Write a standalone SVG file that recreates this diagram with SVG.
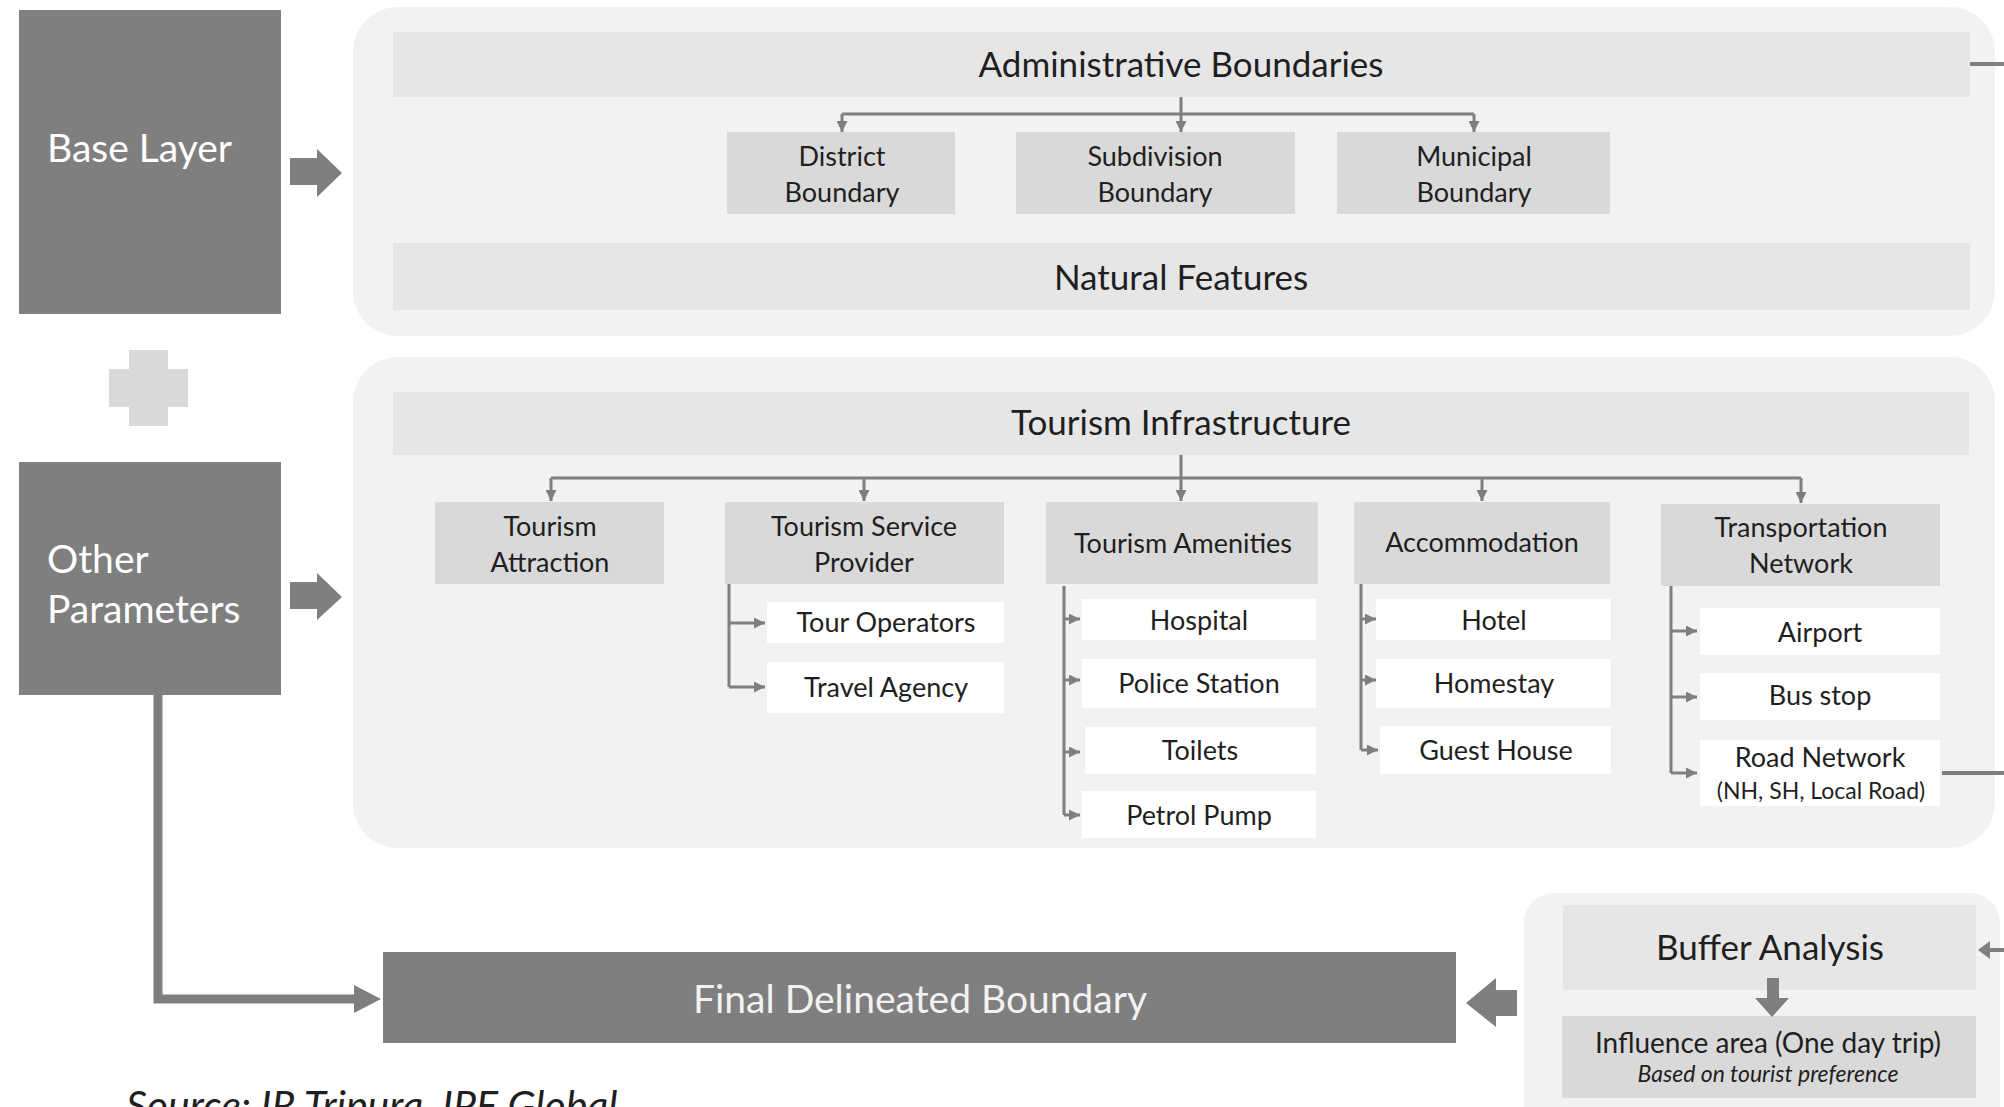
<svg xmlns="http://www.w3.org/2000/svg" width="2004" height="1107" viewBox="0 0 2004 1107">
<defs>
<style>
.dark{fill:#7f7f7f}
.panel{fill:#f2f2f2}
.bar{fill:#e6e6e6}
.sub{fill:#d9d9d9}
.wb{fill:#ffffff}
.t{font-family:Lato,"Open Sans","Liberation Sans",sans-serif;fill:#1f1f1f;text-anchor:middle}
.big{font-size:35px}
.mid{font-size:27px}
.wt{font-family:Lato,"Open Sans","Liberation Sans",sans-serif;fill:#ffffff;font-size:39px}
.ln{stroke:#7f7f7f;stroke-width:3;fill:none}
.thick{stroke:#7f7f7f;fill:none}
.blk{fill:#7f7f7f}
</style>
<marker id="ah" viewBox="0 0 10 10" refX="10" refY="5" markerWidth="11" markerHeight="11" markerUnits="userSpaceOnUse" orient="auto">
<path d="M0,0 L10,5 L0,10 z" fill="#7f7f7f"/>
</marker>
</defs>
<rect width="2004" height="1107" fill="#ffffff"/>

<g id="panel-base">
<rect class="panel" x="353" y="7" width="1642" height="329" rx="45"/>
</g>
<g id="panel-other">
<rect class="panel" x="353" y="357" width="1642" height="491" rx="45"/>
</g>
<g id="panel-buffer">
<rect class="panel" x="1524" y="893" width="476" height="240" rx="30"/>
</g>

<g id="base-layer">
<rect class="dark" x="19" y="10" width="262" height="304"/>
<text class="wt" x="47" y="162">Base Layer</text>
</g>
<g id="plus">
<rect x="129" y="350" width="39" height="76" fill="#d9d9d9"/>
<rect x="109" y="369" width="79" height="38" fill="#d9d9d9"/>
</g>
<g id="other-parameters">
<rect class="dark" x="19" y="462" width="262" height="233"/>
<text class="wt" x="47" y="573">Other</text>
<text class="wt" x="47" y="623">Parameters</text>
</g>

<g id="admin-boundaries">
<rect class="bar" x="393" y="32" width="1577" height="65"/>
<text class="t big" x="1181" y="77">Administrative Boundaries</text>
</g>
<g id="district-boundary">
<rect class="sub" x="727" y="132" width="228" height="82"/>
<text class="t mid" x="842" y="166">District</text>
<text class="t mid" x="842" y="202">Boundary</text>
</g>
<g id="subdivision-boundary">
<rect class="sub" x="1016" y="132" width="279" height="82"/>
<text class="t mid" x="1155" y="166">Subdivision</text>
<text class="t mid" x="1155" y="202">Boundary</text>
</g>
<g id="municipal-boundary">
<rect class="sub" x="1337" y="132" width="273" height="82"/>
<text class="t mid" x="1474" y="166">Municipal</text>
<text class="t mid" x="1474" y="202">Boundary</text>
</g>
<g id="natural-features">
<rect class="bar" x="393" y="243" width="1577" height="67"/>
<text class="t big" x="1181" y="290">Natural Features</text>
</g>

<g id="tourism-infrastructure">
<rect class="bar" x="393" y="392" width="1576" height="63"/>
<text class="t big" x="1181" y="435">Tourism Infrastructure</text>
</g>
<g id="tourism-attraction">
<rect class="sub" x="435" y="502" width="229" height="82"/>
<text class="t mid" x="550" y="536">Tourism</text>
<text class="t mid" x="550" y="572">Attraction</text>
</g>
<g id="tourism-service-provider">
<rect class="sub" x="725" y="502" width="279" height="82"/>
<text class="t mid" x="864" y="536">Tourism Service</text>
<text class="t mid" x="864" y="572">Provider</text>
</g>
<g id="tourism-amenities">
<rect class="sub" x="1046" y="502" width="272" height="82"/>
<text class="t mid" x="1183" y="553">Tourism Amenities</text>
</g>
<g id="accommodation">
<rect class="sub" x="1354" y="502" width="256" height="82"/>
<text class="t mid" x="1482" y="552">Accommodation</text>
</g>
<g id="transportation-network">
<rect class="sub" x="1661" y="504" width="279" height="82"/>
<text class="t mid" x="1801" y="537">Transportation</text>
<text class="t mid" x="1801" y="573">Network</text>
</g>

<g id="tour-operators">
<rect class="wb" x="767" y="602" width="237" height="41"/>
<text class="t mid" x="886" y="632">Tour Operators</text>
</g>
<g id="travel-agency">
<rect class="wb" x="767" y="662" width="237" height="51"/>
<text class="t mid" x="886" y="697">Travel Agency</text>
</g>
<g id="hospital">
<rect class="wb" x="1082" y="599" width="234" height="41"/>
<text class="t mid" x="1199" y="630">Hospital</text>
</g>
<g id="police-station">
<rect class="wb" x="1082" y="659" width="234" height="49"/>
<text class="t mid" x="1199" y="693">Police Station</text>
</g>
<g id="toilets">
<rect class="wb" x="1085" y="727" width="231" height="47"/>
<text class="t mid" x="1200" y="760">Toilets</text>
</g>
<g id="petrol-pump">
<rect class="wb" x="1082" y="791" width="234" height="47"/>
<text class="t mid" x="1199" y="825">Petrol Pump</text>
</g>
<g id="hotel">
<rect class="wb" x="1376" y="599" width="235" height="41"/>
<text class="t mid" x="1494" y="630">Hotel</text>
</g>
<g id="homestay">
<rect class="wb" x="1376" y="659" width="235" height="49"/>
<text class="t mid" x="1494" y="693">Homestay</text>
</g>
<g id="guest-house">
<rect class="wb" x="1380" y="726" width="231" height="48"/>
<text class="t mid" x="1496" y="760">Guest House</text>
</g>
<g id="airport">
<rect class="wb" x="1700" y="608" width="240" height="47"/>
<text class="t mid" x="1820" y="642">Airport</text>
</g>
<g id="bus-stop">
<rect class="wb" x="1700" y="673" width="240" height="47"/>
<text class="t mid" x="1820" y="705">Bus stop</text>
</g>
<g id="road-network">
<rect class="wb" x="1700" y="740" width="240" height="66"/>
<text class="t mid" x="1820" y="767">Road Network</text>
<text class="t" x="1821" y="799" font-size="23">(NH, SH, Local Road)</text>
</g>

<g id="final-delineated-boundary">
<rect class="dark" x="383" y="952" width="1073" height="91"/>
<text x="920" y="1013" font-family="Lato,'Open Sans','Liberation Sans',sans-serif" font-size="39" fill="#f2f2f2" text-anchor="middle">Final Delineated Boundary</text>
</g>
<g id="buffer-analysis">
<rect class="bar" x="1563" y="905" width="413" height="85"/>
<text class="t big" x="1770" y="960">Buffer Analysis</text>
</g>
<g id="influence-area">
<rect class="sub" x="1562" y="1016" width="414" height="82"/>
<text class="t" x="1768" y="1053" font-size="28">Influence area (One day trip)</text>
<text class="t" x="1768" y="1082" font-size="23" font-style="italic">Based on tourist preference</text>
</g>

<g id="connectors">
<path class="ln" d="M1181,97 V132" marker-end="url(#ah)"/>
<path class="ln" d="M842,114 H1474"/>
<path class="ln" d="M842,114 V132" marker-end="url(#ah)"/>
<path class="ln" d="M1474,114 V132" marker-end="url(#ah)"/>

<path class="ln" d="M1181,455 V501" marker-end="url(#ah)"/>
<path class="ln" d="M551,478 H1801"/>
<path class="ln" d="M551,478 V501" marker-end="url(#ah)"/>
<path class="ln" d="M864,478 V501" marker-end="url(#ah)"/>
<path class="ln" d="M1482,478 V501" marker-end="url(#ah)"/>
<path class="ln" d="M1801,478 V503" marker-end="url(#ah)"/>

<path class="ln" d="M729,584 V687"/>
<path class="ln" d="M729,623 H765" marker-end="url(#ah)"/>
<path class="ln" d="M729,687 H765" marker-end="url(#ah)"/>

<path class="ln" d="M1064,586 V815"/>
<path class="ln" d="M1064,619 H1080" marker-end="url(#ah)"/>
<path class="ln" d="M1064,680 H1080" marker-end="url(#ah)"/>
<path class="ln" d="M1064,752 H1080" marker-end="url(#ah)"/>
<path class="ln" d="M1064,815 H1080" marker-end="url(#ah)"/>

<path class="ln" d="M1361,584 V750"/>
<path class="ln" d="M1361,619 H1376" marker-end="url(#ah)"/>
<path class="ln" d="M1361,680 H1376" marker-end="url(#ah)"/>
<path class="ln" d="M1361,750 H1378" marker-end="url(#ah)"/>

<path class="ln" d="M1671,586 V773"/>
<path class="ln" d="M1671,631 H1697" marker-end="url(#ah)"/>
<path class="ln" d="M1671,697 H1697" marker-end="url(#ah)"/>
<path class="ln" d="M1671,773 H1697" marker-end="url(#ah)"/>

<path class="thick" stroke-width="4" d="M1970,64 H2004"/>
<path class="thick" stroke-width="4" d="M1942,773 H2004"/>
<path class="thick" stroke-width="4" d="M2004,950 H1988"/>
<polygon class="blk" points="1990,941 1978,950 1990,959"/>

<polygon class="blk" points="290,158 317,158 317,149 342,173 317,197 317,185 290,185"/>
<polygon class="blk" points="290,582 317,582 317,573 342,597 317,620 317,609 290,609"/>
<path class="thick" stroke-width="9" d="M158,695 V999 H356"/>
<polygon class="blk" points="354,985 381,999 354,1013"/>
<polygon class="blk" points="1517,990 1496,990 1496,978 1466,1003 1496,1027 1496,1016 1517,1016"/>
<polygon class="blk" points="1767,978 1779,978 1779,998 1789,998 1772,1017 1755,998 1767,998"/>
</g>

<g id="source">
<text x="126" y="1120" font-family="Lato,'Open Sans','Liberation Sans',sans-serif" font-size="41" font-style="italic" fill="#1f1f1f">Source: IR Tripura, IPE Global</text>
</g>
</svg>
